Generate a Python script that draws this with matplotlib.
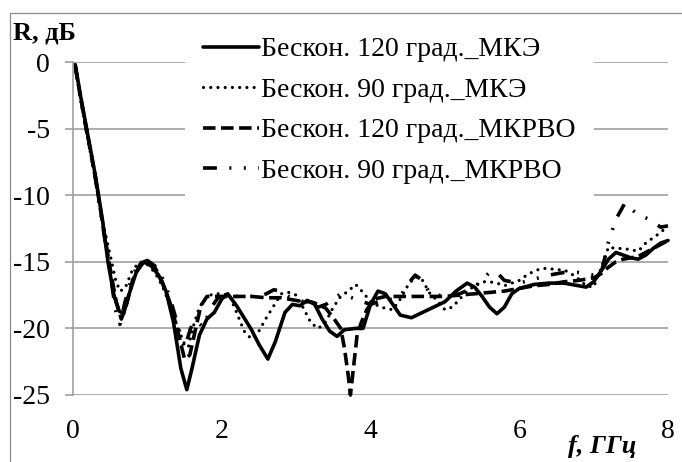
import matplotlib
matplotlib.use("Agg")
import matplotlib.pyplot as plt
from matplotlib.patches import Rectangle

plt.rcParams['font.family'] = ['Liberation Serif', 'DejaVu Serif']
plt.rcParams['axes.unicode_minus'] = False
plt.rcParams['lines.scale_dashes'] = False

# Бескон. 120 град._МКЭ (сплошная)
f_120_mke = [0.03, 0.1, 0.2, 0.3, 0.4, 0.47, 0.55, 0.62, 0.68, 0.75, 0.85, 0.95, 1.05, 1.15,
             1.25, 1.35, 1.45, 1.53, 1.6, 1.7, 1.8, 1.9, 2.0, 2.08, 2.2, 2.3, 2.4, 2.5, 2.62,
             2.72, 2.85, 2.95, 3.05, 3.15, 3.25, 3.35, 3.45, 3.55, 3.65, 3.8, 3.9, 4.0, 4.1,
             4.2, 4.3, 4.4, 4.55, 4.7, 4.85, 5.0, 5.15, 5.3, 5.4, 5.5, 5.6, 5.7, 5.8, 5.9,
             6.0, 6.2, 6.4, 6.6, 6.8, 6.9, 7.0, 7.1, 7.2, 7.3, 7.4, 7.5, 7.6, 7.7, 7.8, 7.9, 8.0]
r_120_mke = [-0.2, -2.5, -5.5, -8.5, -12.0, -15.0, -17.5, -18.7, -18.9, -17.5, -15.8, -15.0,
             -15.3, -16.0, -17.2, -19.5, -23.0, -24.6, -23.0, -20.5, -19.3, -18.8, -17.8,
             -17.4, -18.3, -19.2, -20.1, -21.2, -22.3, -21.0, -18.8, -18.2, -18.3, -17.9,
             -18.2, -19.3, -20.2, -20.6, -20.1, -20.0, -20.0, -18.2, -17.2, -17.4, -18.2,
             -19.0, -19.2, -18.8, -18.4, -18.0, -17.2, -16.6, -16.9, -17.6, -18.4, -18.9,
             -18.4, -17.4, -17.0, -16.7, -16.6, -16.6, -16.8, -16.9, -16.5, -15.7, -14.8,
             -14.3, -14.5, -14.7, -14.8, -14.5, -14.0, -13.6, -13.4]

# Бескон. 90 град._МКЭ (точки)
f_90_mke = [0.03, 0.1, 0.2, 0.3, 0.4, 0.5, 0.57, 0.63, 0.7, 0.8, 0.9, 1.0, 1.1, 1.2, 1.3, 1.4,
            1.5, 1.55, 1.62, 1.7, 1.8, 1.9, 2.0, 2.1, 2.2, 2.3, 2.4, 2.5, 2.6, 2.7, 2.8, 2.9,
            3.0, 3.1, 3.2, 3.3, 3.4, 3.5, 3.6, 3.7, 3.8, 3.9, 4.0, 4.1, 4.2, 4.3, 4.4, 4.5,
            4.6, 4.7, 4.8, 4.9, 5.0, 5.1, 5.2, 5.3, 5.4, 5.5, 5.6, 5.7, 5.8, 5.9, 6.0, 6.1,
            6.2, 6.3, 6.4, 6.5, 6.6, 6.7, 6.8, 6.9, 7.0, 7.1, 7.2, 7.3, 7.4, 7.5, 7.6, 7.7,
            7.8, 7.9, 8.0]
r_90_mke = [-0.3, -2.8, -5.8, -8.8, -12.0, -14.5, -16.3, -17.2, -17.0, -15.6, -15.0, -15.2,
            -15.8, -16.8, -18.2, -19.8, -21.2, -21.4, -19.8, -18.4, -17.6, -17.4, -17.4,
            -17.5, -18.8, -20.2, -20.8, -20.2, -19.2, -18.3, -17.4, -17.3, -17.5, -18.5,
            -19.6, -20.0, -19.5, -18.4, -17.6, -17.2, -16.7, -17.3, -18.0, -18.3, -18.5,
            -18.6, -17.8, -16.8, -16.1, -16.4, -17.4, -17.9, -18.6, -18.4, -17.8, -17.2,
            -16.8, -16.5, -16.5, -16.6, -16.8, -16.6, -16.4, -16.0, -15.7, -15.5, -15.5,
            -15.6, -15.6, -15.9, -16.3, -16.8, -16.9, -15.5, -13.9, -14.0, -14.0, -14.1,
            -14.2, -13.6, -13.2, -12.8, -12.3]

# Бескон. 120 град._МКРВО (штрих)
f_120_mkrvo = [0.03, 0.1, 0.2, 0.3, 0.4, 0.5, 0.58, 0.65, 0.72, 0.8, 0.9, 1.0, 1.1, 1.2, 1.3,
               1.4, 1.5, 1.57, 1.65, 1.72, 1.8, 1.9, 2.0, 2.2, 2.4, 2.6, 2.8, 2.9, 3.0, 3.1,
               3.2, 3.3, 3.4, 3.5, 3.6, 3.65, 3.7, 3.73, 3.77, 3.82, 3.88, 3.95, 4.05, 4.2,
               4.4, 4.6, 4.8, 5.0, 5.2, 5.4, 5.6, 5.8, 6.0, 6.2, 6.4, 6.6, 6.8, 7.0, 7.1,
               7.2, 7.3, 7.4, 7.5, 7.6, 7.7, 7.8, 7.9, 8.0]
r_120_mkrvo = [-0.3, -2.6, -5.6, -8.6, -12.2, -15.5, -18.0, -19.3, -18.2, -16.4, -15.2, -15.0,
               -15.4, -16.5, -18.0, -20.0, -22.3, -22.0, -20.0, -18.3, -17.6, -17.6, -17.6,
               -17.6, -17.6, -17.7, -17.7, -17.8, -17.9, -18.0, -18.0, -18.2, -18.5, -19.2,
               -20.0, -21.5, -23.5, -25.0, -23.0, -20.5, -19.5, -18.6, -17.8, -17.6, -17.6,
               -17.6, -17.6, -17.6, -17.5, -17.4, -17.3, -17.2, -17.0, -16.8, -16.7, -16.5,
               -16.4, -16.2, -15.9, -15.4, -15.0, -14.8, -14.7, -14.6, -14.3, -14.0, -13.7,
               -13.4]

# Бескон. 90 град._МКРВО (штрих-точка-точка)
f_90_mkrvo = [0.03, 0.1, 0.2, 0.3, 0.4, 0.5, 0.57, 0.63, 0.7, 0.8, 0.9, 1.0, 1.1, 1.2, 1.3,
              1.4, 1.5, 1.58, 1.65, 1.75, 1.85, 1.95, 2.1, 2.3, 2.5, 2.6, 2.7, 2.8, 2.9, 3.0,
              3.1, 3.2, 3.3, 3.4, 3.5, 3.6, 3.7, 3.8, 3.9, 4.0, 4.1, 4.2, 4.3, 4.4, 4.5, 4.6,
              4.7, 4.8, 5.0, 5.2, 5.4, 5.6, 5.7, 5.8, 6.0, 6.2, 6.4, 6.6, 6.8, 7.0, 7.1, 7.2,
              7.3, 7.42, 7.5, 7.6, 7.7, 7.8, 7.9, 8.0]
r_90_mkrvo = [-0.3, -2.7, -5.7, -8.7, -12.3, -15.8, -18.6, -19.7, -18.0, -16.0, -15.1, -14.9,
              -15.3, -16.2, -17.6, -19.6, -21.5, -20.0, -19.4, -19.9, -18.5, -17.7, -17.6,
              -17.6, -17.6, -17.4, -17.1, -17.2, -17.6, -17.8, -18.0, -18.2, -18.4, -18.2,
              -17.8, -17.4, -17.6, -17.8, -18.0, -18.2, -18.0, -17.9, -17.8, -17.6, -16.7,
              -16.0, -16.4, -17.4, -17.6, -17.4, -16.9, -15.8, -15.8, -16.4, -16.6, -16.3,
              -16.0, -15.8, -15.8, -16.0, -15.9, -13.5, -11.8, -10.6, -11.0, -11.5, -11.7,
              -12.0, -12.4, -12.3]

labels = ['Бескон. 120 град._МКЭ', 'Бескон. 90 град._МКЭ',
          'Бескон. 120 град._МКРВО', 'Бескон. 90 град._МКРВО']
x_ticks = [0, 2, 4, 6, 8]
y_ticks = [0, -5, -10, -15, -20, -25]

W, H = 682, 462
fig = plt.figure(figsize=(W / 100, H / 100), dpi=100)
ax = fig.add_axes([73 / W, 1 - 395 / H, (668 - 73) / W, (395 - 62) / H])

grid_c = '#a0a0a0'

ax.plot(f_120_mke, r_120_mke, color='black', lw=2.6, solid_capstyle='round',
        solid_joinstyle='round', clip_on=False, label=labels[0])
ax.plot(f_90_mke, r_90_mke, color='black', lw=2.3, linestyle=(0, (0.01, 5.2)),
        dash_capstyle='round', clip_on=False, label=labels[1])
ax.plot(f_120_mkrvo, r_120_mkrvo, color='black', lw=2.6, linestyle=(0, (9, 4)),
        dash_joinstyle='round', clip_on=False, label=labels[2])
ax.plot(f_90_mkrvo, r_90_mkrvo, color='black', lw=2.6,
        linestyle=(0, (10, 9, 1.4, 9, 1.4, 9)), dash_joinstyle='round',
        clip_on=False, label=labels[3])

ax.set_xlim(0, 8)
ax.set_ylim(-25, 0)
ax.set_xticks(x_ticks)
ax.set_yticks(y_ticks)
ax.set_yticklabels([str(v) for v in y_ticks])
ax.grid(axis='y', color=grid_c, lw=1.2)
ax.set_axisbelow(True)
for s in ['top', 'right', 'bottom']:
    ax.spines[s].set_visible(False)
ax.spines['left'].set_color(grid_c)
ax.spines['left'].set_linewidth(1.2)
ax.tick_params(axis='y', length=5.5, width=1.2, color=grid_c, pad=11, labelsize=20)
ax.tick_params(axis='x', length=0, pad=17, labelsize=20)

leg = ax.legend(loc='upper left', bbox_to_anchor=(185 / W, 1 - 19 / H),
                bbox_transform=fig.transFigure, fontsize=20, frameon=True,
                facecolor='white', edgecolor='none', framealpha=1, fancybox=False,
                borderpad=0.65, borderaxespad=0, handlelength=2.0,
                handletextpad=0.1, labelspacing=0.54)

fig.text(13 / W, 1 - 33 / H, 'R, дБ', fontsize=19, fontweight='bold', va='center', ha='left')
fig.text(568 / W, 1 - 446 / H, 'f, ГГц', fontsize=19, fontweight='bold', style='italic',
         va='center', ha='left')

fig.add_artist(Rectangle((10 / W, -0.1), 1.2, 1.1 - 13 / H, transform=fig.transFigure,
                         fill=False, edgecolor='#8c8c8c', lw=0.9))

fig.savefig('out.png', dpi=100)
